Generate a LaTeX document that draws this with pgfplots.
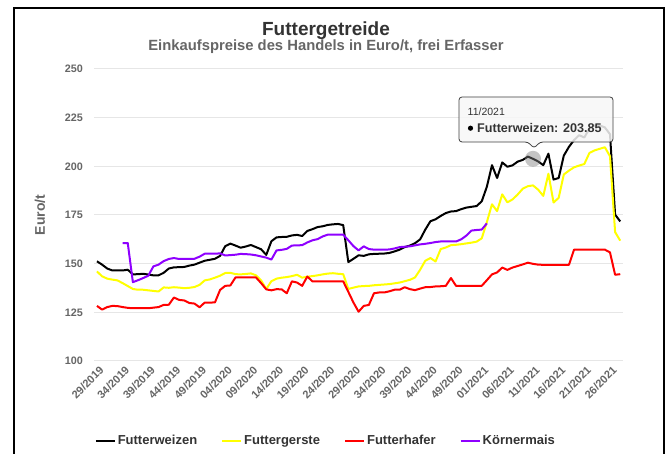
\documentclass[border=0pt]{standalone}
\usepackage{fontspec}
\setmainfont{Liberation Sans}
\usepackage{pgfplots}
\pgfplotsset{compat=1.18}
\usepackage{pgfplotstable}
\definecolor{cYellow}{HTML}{FFFF00}
\definecolor{cRed}{HTML}{FF0000}
\definecolor{cPurple}{HTML}{8F00FF}
\definecolor{gridc}{HTML}{E6E6E6}
\definecolor{tickc}{HTML}{666666}
\definecolor{titlec}{HTML}{333333}

\pgfplotstableread{
x y
0 151.2
1 149.5
2 147.5
3 146.5
4 146.5
5 146.5
6 146.9
7 144.5
8 144.6
9 144.8
10 144.4
11 144.0
12 144.0
13 145.3
14 147.5
15 148.1
16 148.2
17 148.3
18 149.0
19 149.5
20 150.5
21 151.5
22 152.0
23 152.5
24 154.0
25 159.0
26 160.3
27 159.3
28 158.2
29 158.8
30 159.6
31 158.5
32 157.4
33 154.5
34 161.5
35 163.5
36 163.7
37 163.8
38 164.5
39 164.8
40 164.2
41 166.8
42 167.7
43 168.8
44 169.2
45 169.9
46 170.2
47 170.4
48 169.8
49 150.8
50 152.5
51 154.3
52 154.0
53 154.8
54 155.0
55 155.1
56 155.2
57 155.5
58 156.3
59 157.2
60 158.5
61 159.3
62 160.5
63 162.5
64 167.5
65 171.8
66 172.8
67 174.5
68 176.0
69 176.8
70 177.0
71 178.0
72 178.8
73 179.2
74 179.6
75 182.0
76 189.5
77 200.6
78 194.0
79 202.0
80 199.8
81 200.5
82 202.4
83 203.3
84 205.0
85 203.85
86 202.5
87 200.6
88 206.5
89 193.2
90 194.0
91 205.5
92 210.0
93 213.5
94 216.0
95 214.8
96 219.5
97 221.0
98 221.0
99 220.0
100 216.5
101 175.2
102 171.7
}\weizen

\pgfplotstableread{
x y
0 146.0
1 143.5
2 142.3
3 141.8
4 141.4
5 140.0
6 138.5
7 137.0
8 136.6
9 136.6
10 136.3
11 136.0
12 135.7
13 137.8
14 137.6
15 137.9
16 137.7
17 137.4
18 137.6
19 138.0
20 139.1
21 141.4
22 141.9
23 142.8
24 143.8
25 145.2
26 145.3
27 144.6
28 144.5
29 144.7
30 145.0
31 144.0
32 141.4
33 137.0
34 141.0
35 142.3
36 142.8
37 143.1
38 143.6
39 144.3
40 142.8
41 143.3
42 143.6
43 144.0
44 144.5
45 144.9
46 145.1
47 144.8
48 144.6
49 137.0
50 137.7
51 138.3
52 138.5
53 138.6
54 138.9
55 139.1
56 139.3
57 139.5
58 139.9
59 140.3
60 141.0
61 141.7
62 142.9
63 146.9
64 151.5
65 152.9
66 151.1
67 157.5
68 158.3
69 159.5
70 159.7
71 160.0
72 160.4
73 160.8
74 161.3
75 163.0
76 171.3
77 180.5
78 177.0
79 185.6
80 181.5
81 183.0
82 185.5
83 188.5
84 189.8
85 190.2
86 188.0
87 184.8
88 196.2
89 181.4
90 183.8
91 195.8
92 197.8
93 199.5
94 200.4
95 201.2
96 206.9
97 208.2
98 209.0
99 209.8
100 205.2
101 166.2
102 161.8
}\gerste

\pgfplotstableread{
x y
0 128.3
1 126.4
2 127.7
3 128.3
4 128.2
5 127.7
6 127.3
7 127.1
8 127.1
9 127.1
10 127.1
11 127.4
12 127.7
13 128.8
14 128.9
15 132.6
16 131.4
17 131.1
18 129.8
19 129.5
20 127.6
21 130.0
22 130.0
23 130.1
24 136.5
25 138.6
26 138.8
27 142.9
28 142.9
29 142.9
30 142.9
31 142.9
32 140.0
33 136.8
34 136.3
35 136.9
36 136.8
37 134.8
38 140.9
39 140.3
40 138.6
41 143.4
42 140.9
43 140.9
44 140.9
45 140.9
46 140.9
47 140.9
48 140.9
49 135.5
50 130.0
51 125.3
52 128.3
53 128.8
54 134.8
55 135.2
56 135.2
57 135.8
58 136.6
59 136.6
60 137.9
61 136.9
62 136.4
63 137.2
64 137.9
65 138.0
66 138.3
67 138.4
68 138.6
69 142.6
70 138.6
71 138.6
72 138.6
73 138.6
74 138.6
75 138.6
76 141.5
77 144.5
78 145.5
79 148.0
80 146.8
81 148.0
82 148.8
83 149.6
84 150.5
85 149.9
86 149.5
87 149.4
88 149.4
89 149.4
90 149.4
91 149.4
92 149.4
93 157.2
94 157.2
95 157.2
96 157.2
97 157.2
98 157.2
99 157.2
100 155.8
101 144.3
102 144.6
}\hafer

\pgfplotstableread{
x y
5 160.6
6 160.6
7 140.5
8 141.5
9 142.6
10 143.8
11 148.6
12 149.5
13 151.3
14 152.4
15 152.9
16 152.4
17 152.4
18 152.4
19 152.5
20 153.6
21 155.1
22 155.1
23 155.1
24 155.3
25 154.2
26 154.4
27 154.6
28 155.0
29 154.9
30 154.7
31 154.3
32 153.7
33 153.1
34 152.1
35 156.8
36 157.1
37 157.6
38 159.3
39 159.4
40 159.5
41 160.9
42 162.0
43 162.6
44 164.0
45 164.9
46 164.9
47 164.9
48 164.9
49 162.0
50 159.0
51 156.8
52 158.9
53 157.5
54 157.2
55 157.2
56 157.2
57 157.3
58 157.8
59 158.5
60 158.7
61 158.9
62 159.4
63 159.9
64 160.2
65 160.6
66 161.1
67 161.4
68 161.4
69 161.4
70 161.4
71 162.5
72 164.4
73 167.0
74 167.3
75 167.5
76 170.7
}\mais

\begin{document}
\begin{tikzpicture}[x=1pt,y=1pt]
\useasboundingbox (0,0) rectangle (672,454);
\fill[white] (0,0) rectangle (672,454);
% frame
\draw[black, line width=1.5pt] (14,0) -- (14,446) -- (664,446) -- (664,0);
% titles
\node[anchor=base, text=titlec, font=\fontsize{19}{22}\selectfont\bfseries] at (326,418) {Futtergetreide};
\node[anchor=base, text=tickc, font=\fontsize{14.8}{17}\selectfont\bfseries] at (326,403) {Einkaufspreise des Handels in Euro/t, frei Erfasser};

\begin{axis}[
  at={(94.4pt,93pt)}, anchor=south west,
  width=528.4pt, height=292pt, scale only axis,
  xmin=-0.5, xmax=102.5, ymin=100, ymax=250,
  axis line style={draw=none},
  tick style={draw=none},
  ymajorgrids, major grid style={gridc, line width=1pt},
  ytick={100,125,150,175,200,225,250},
  xtick={0,5,...,100},
  xticklabels={29/2019,34/2019,39/2019,44/2019,49/2019,04/2020,09/2020,14/2020,19/2020,24/2020,29/2020,34/2020,39/2020,44/2020,49/2020,01/2021,06/2021,11/2021,16/2021,21/2021,26/2021},
  /pgf/number format/assume math mode=true,
  yticklabel style={font=\fontsize{10.8}{12}\selectfont\bfseries, text=tickc, xshift=-8pt},
  xticklabel style={rotate=45, anchor=north east, font=\fontsize{11}{13}\selectfont\bfseries, text=tickc, xshift=1.5pt, yshift=-1pt},
  ylabel={Euro/t},
  ylabel style={at={(axis description cs:-0.103,0.5)}, anchor=center, rotate=0, font=\fontsize{14}{16}\selectfont\bfseries, text=tickc},
  legend columns=4,
  legend style={at={(axis description cs:0.438,-0.274)}, anchor=center, draw=none, fill=none,
    font=\fontsize{13}{15}\selectfont\bfseries, text=titlec,
    /tikz/every even column/.append style={column sep=22pt}},
  legend image code/.code={\draw[#1, line width=2pt] (0pt,0pt) -- (19pt,0pt);},
  every axis plot/.append style={line width=2pt, line join=round},
]
\addplot[black, mark=none] table[x=x,y=y] {\weizen};
\addlegendentry{Futterweizen}
\addplot[cYellow, mark=none] table[x=x,y=y] {\gerste};
\addlegendentry{Futtergerste}
\addplot[cRed, mark=none] table[x=x,y=y] {\hafer};
\addlegendentry{Futterhafer}
\addplot[cPurple, mark=none] table[x=x,y=y] {\mais};
\addlegendentry{Körnermais}
\addplot[only marks, mark=*, mark size=8pt, line width=0pt, mark options={draw opacity=0, fill=gray, fill opacity=0.45}, forget plot] coordinates {(85,203.85)};
\end{axis}

% tooltip
\draw[draw=black!75, line width=0.8pt, fill=white!97!black, fill opacity=0.85, rounded corners=3pt]
  (459,312) -- (459,357) -- (613,357) -- (613,312) -- (540,312) -- (534,305.7) -- (528,312) -- cycle;
\node[anchor=base west, inner sep=0pt, text=titlec, font=\fontsize{10.5}{12}\selectfont] at (467.5,338) {11/2021};
\fill[black] (470.5,325.8) circle (2.6);
\node[anchor=base west, inner sep=0pt, text=titlec, font=\fontsize{12.6}{15}\selectfont\bfseries] at (477,321.7) {Futterweizen: 203.85};
\end{tikzpicture}
\end{document}
